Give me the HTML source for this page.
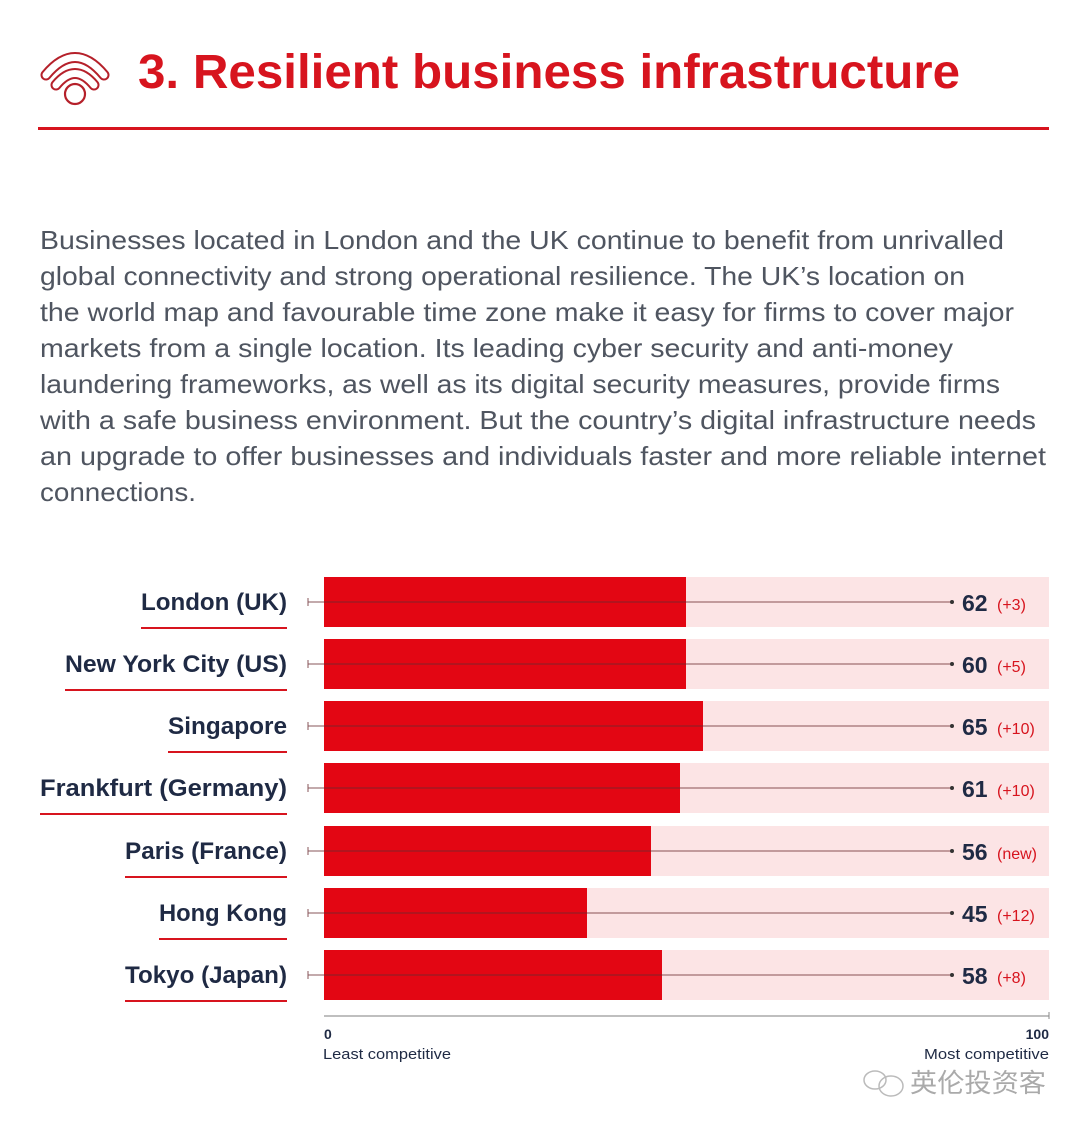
<!DOCTYPE html>
<html><head><meta charset="utf-8"><style>
html,body{margin:0;padding:0;background:#fff;}
svg{display:block;}
</style></head><body>
<svg width="1080" height="1131" viewBox="0 0 1080 1131" xmlns="http://www.w3.org/2000/svg" font-family="Liberation Sans, sans-serif">
<rect width="1080" height="1131" fill="#fff"/>
<!-- icon -->
<g fill="none" stroke-linecap="round">
<path d="M46 75 Q75 40 104 75" stroke="#b5202a" stroke-width="11"/>
<path d="M46 75 Q75 40 104 75" stroke="#fff" stroke-width="7"/>
<path d="M56 85 Q75 62 94 85" stroke="#b5202a" stroke-width="11"/>
<path d="M56 85 Q75 62 94 85" stroke="#fff" stroke-width="7"/>
</g>
<circle cx="75" cy="94" r="10" fill="#fff" stroke="#b5202a" stroke-width="2.2"/>
<text x="138" y="88" font-size="48" font-weight="bold" fill="#d7141e" textLength="822" lengthAdjust="spacingAndGlyphs">3. Resilient business infrastructure</text>
<rect x="38" y="127" width="1011" height="3" fill="#d7141e"/>
<g font-size="26" fill="#4f5560">
<text x="40" y="249" textLength="964" lengthAdjust="spacingAndGlyphs">Businesses located in London and the UK continue to benefit from unrivalled</text>
<text x="40" y="285" textLength="925" lengthAdjust="spacingAndGlyphs">global connectivity and strong operational resilience. The UK’s location on</text>
<text x="40" y="321" textLength="974" lengthAdjust="spacingAndGlyphs">the world map and favourable time zone make it easy for firms to cover major</text>
<text x="40" y="357" textLength="913" lengthAdjust="spacingAndGlyphs">markets from a single location. Its leading cyber security and anti-money</text>
<text x="40" y="393" textLength="960" lengthAdjust="spacingAndGlyphs">laundering frameworks, as well as its digital security measures, provide firms</text>
<text x="40" y="429" textLength="996" lengthAdjust="spacingAndGlyphs">with a safe business environment. But the country’s digital infrastructure needs</text>
<text x="40" y="465" textLength="1006" lengthAdjust="spacingAndGlyphs">an upgrade to offer businesses and individuals faster and more reliable internet</text>
<text x="40" y="501" textLength="156" lengthAdjust="spacingAndGlyphs">connections.</text>
</g>
<!-- bars -->
<g>
<rect x="324" y="577" width="725" height="50" fill="#fce4e5"/>
<rect x="324" y="577" width="362" height="50" fill="#e30613"/>
<rect x="324" y="639" width="725" height="50" fill="#fce4e5"/>
<rect x="324" y="639" width="362" height="50" fill="#e30613"/>
<rect x="324" y="701" width="725" height="50" fill="#fce4e5"/>
<rect x="324" y="701" width="379" height="50" fill="#e30613"/>
<rect x="324" y="763" width="725" height="50" fill="#fce4e5"/>
<rect x="324" y="763" width="356" height="50" fill="#e30613"/>
<rect x="324" y="826" width="725" height="50" fill="#fce4e5"/>
<rect x="324" y="826" width="327" height="50" fill="#e30613"/>
<rect x="324" y="888" width="725" height="50" fill="#fce4e5"/>
<rect x="324" y="888" width="263" height="50" fill="#e30613"/>
<rect x="324" y="950" width="725" height="50" fill="#fce4e5"/>
<rect x="324" y="950" width="338" height="50" fill="#e30613"/>
</g>
<g stroke="#6a2a30" stroke-width="1" opacity="0.8">
<line x1="308" y1="602" x2="952" y2="602"/><line x1="308" y1="598" x2="308" y2="606"/>
<line x1="308" y1="664" x2="952" y2="664"/><line x1="308" y1="660" x2="308" y2="668"/>
<line x1="308" y1="726" x2="952" y2="726"/><line x1="308" y1="722" x2="308" y2="730"/>
<line x1="308" y1="788" x2="952" y2="788"/><line x1="308" y1="784" x2="308" y2="792"/>
<line x1="308" y1="851" x2="952" y2="851"/><line x1="308" y1="847" x2="308" y2="855"/>
<line x1="308" y1="913" x2="952" y2="913"/><line x1="308" y1="909" x2="308" y2="917"/>
<line x1="308" y1="975" x2="952" y2="975"/><line x1="308" y1="971" x2="308" y2="979"/>
</g>
<g fill="#333"><circle cx="952" cy="602" r="2"/><circle cx="952" cy="664" r="2"/><circle cx="952" cy="726" r="2"/><circle cx="952" cy="788" r="2"/><circle cx="952" cy="851" r="2"/><circle cx="952" cy="913" r="2"/><circle cx="952" cy="975" r="2"/></g>
<!-- labels -->
<g font-size="24" font-weight="bold" fill="#1f2a44">
<text x="141" y="610" textLength="146" lengthAdjust="spacingAndGlyphs">London (UK)</text>
<text x="65" y="672" textLength="222" lengthAdjust="spacingAndGlyphs">New York City (US)</text>
<text x="168" y="734" textLength="119" lengthAdjust="spacingAndGlyphs">Singapore</text>
<text x="40" y="796" textLength="247" lengthAdjust="spacingAndGlyphs">Frankfurt (Germany)</text>
<text x="125" y="859" textLength="162" lengthAdjust="spacingAndGlyphs">Paris (France)</text>
<text x="159" y="921" textLength="128" lengthAdjust="spacingAndGlyphs">Hong Kong</text>
<text x="125" y="983" textLength="162" lengthAdjust="spacingAndGlyphs">Tokyo (Japan)</text>
</g>
<g fill="#d7141e">
<rect x="141" y="627" width="146" height="2"/>
<rect x="65" y="689" width="222" height="2"/>
<rect x="168" y="751" width="119" height="2"/>
<rect x="40" y="813" width="247" height="2"/>
<rect x="125" y="876" width="162" height="2"/>
<rect x="159" y="938" width="128" height="2"/>
<rect x="125" y="1000" width="162" height="2"/>
</g>
<!-- values -->
<g font-size="23" font-weight="bold" fill="#1f2a44">
<text x="962" y="611">62</text><text x="962" y="673">60</text><text x="962" y="735">65</text><text x="962" y="797">61</text><text x="962" y="860">56</text><text x="962" y="922">45</text><text x="962" y="984">58</text>
</g>
<g font-size="16" fill="#d7141e">
<text x="997" y="610">(+3)</text><text x="997" y="672">(+5)</text><text x="997" y="734">(+10)</text><text x="997" y="796">(+10)</text><text x="997" y="859">(new)</text><text x="997" y="921">(+12)</text><text x="997" y="983">(+8)</text>
</g>
<!-- axis -->
<line x1="324" y1="1016" x2="1049" y2="1016" stroke="#aaa" stroke-width="1.5"/>
<line x1="1049" y1="1012" x2="1049" y2="1019" stroke="#888" stroke-width="1"/>
<text x="324" y="1039" font-size="14" font-weight="bold" fill="#1f2a44">0</text>
<text x="1049" y="1039" font-size="14" font-weight="bold" fill="#1f2a44" text-anchor="end">100</text>
<text x="323" y="1059" font-size="15" fill="#1f2a44" textLength="128" lengthAdjust="spacingAndGlyphs">Least competitive</text>
<text x="924" y="1059" font-size="15" fill="#1f2a44" textLength="125" lengthAdjust="spacingAndGlyphs">Most competitive</text>
<!-- watermark -->
<g fill="none" stroke="#bbb" stroke-width="1.5"><ellipse cx="875" cy="1080" rx="11" ry="9"/><ellipse cx="891" cy="1086" rx="12" ry="10"/></g>
<text x="910" y="1092" font-size="26" fill="#aaa" font-family="Liberation Sans, Noto Sans CJK SC, sans-serif" textLength="136" lengthAdjust="spacingAndGlyphs">英伦投资客</text>
</svg>
</body></html>
